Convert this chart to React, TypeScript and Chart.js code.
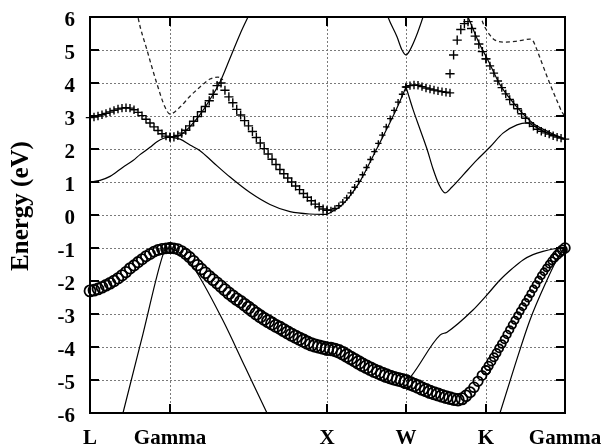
import React, { useEffect, useRef } from 'react';
import { Chart, registerables } from 'chart.js';

Chart.register(...registerables);

// ---- axes ----
const kPathTicks = [0, 80, 237, 316, 396, 475];
const kPathLabels = ['L', 'Gamma', 'X', 'W', 'K', 'Gamma'];
const energyMin = -6;
const energyMax = 6;
const yTitle = 'Energy (eV)';

// ---- circle markers (valence band), values per k-path segment ----
const circleLG = [-2.30, -2.28, -2.24, -2.19, -2.13, -2.07, -2.00, -1.92, -1.83, -1.73, -1.62, -1.53, -1.43, -1.34, -1.25, -1.18, -1.11, -1.06, -1.03, -1.01, -1.00];
const circleGX = [-1.00, -1.01, -1.04, -1.10, -1.18, -1.28, -1.40, -1.52, -1.64, -1.75, -1.86, -1.96, -2.06, -2.16, -2.27, -2.37, -2.46, -2.55, -2.63, -2.72, -2.81, -2.90, -2.99, -3.07, -3.15, -3.22, -3.29, -3.36, -3.42, -3.49, -3.56, -3.63, -3.69, -3.75, -3.81, -3.87, -3.92, -3.96, -3.99, -4.02, -4.05];
const circleXW = [-4.05, -4.06, -4.09, -4.13, -4.19, -4.26, -4.33, -4.40, -4.47, -4.54, -4.60, -4.66, -4.72, -4.77, -4.82, -4.87, -4.91, -4.95, -4.98, -5.01, -5.05];
const circleWK = [-5.05, -5.10, -5.15, -5.20, -5.26, -5.31, -5.36, -5.40, -5.44, -5.48, -5.52, -5.55, -5.58, -5.60, -5.57, -5.48, -5.37, -5.22, -5.04, -4.86, -4.70];
const circleKG = [-4.70, -4.57, -4.44, -4.31, -4.18, -4.04, -3.91, -3.77, -3.62, -3.48, -3.33, -3.19, -3.05, -2.91, -2.78, -2.65, -2.52, -2.38, -2.24, -2.11, -1.97, -1.84, -1.72, -1.60, -1.49, -1.39, -1.30, -1.21, -1.13, -1.06, -1.00];

// ---- plus markers (conduction band), values per segment ----
const plusLG = [2.95, 2.97, 3.00, 3.04, 3.08, 3.12, 3.17, 3.21, 3.24, 3.25, 3.24, 3.19, 3.11, 3.01, 2.90, 2.79, 2.67, 2.56, 2.46, 2.39, 2.36];
const plusGX = [2.36, 2.37, 2.41, 2.48, 2.57, 2.70, 2.84, 2.98, 3.13, 3.29, 3.46, 3.66, 3.92, 4.00, 3.78, 3.58, 3.40, 3.20, 3.03, 2.86, 2.70, 2.53, 2.35, 2.18, 2.01, 1.85, 1.69, 1.53, 1.38, 1.25, 1.12, 1.00, 0.88, 0.77, 0.65, 0.54, 0.43, 0.33, 0.25, 0.18, 0.14];
const plusXW = [0.14, 0.15, 0.20, 0.28, 0.39, 0.52, 0.67, 0.84, 1.02, 1.22, 1.44, 1.68, 1.92, 2.17, 2.42, 2.67, 2.92, 3.17, 3.42, 3.66, 3.88];
const plusWBranch = [3.88, 3.92, 3.94, 3.93, 3.89, 3.85, 3.82, 3.79, 3.76, 3.74, 3.72, 3.70];
const plusUpper = [4.28, 4.85, 5.30, 5.62, 5.80, 5.86, 5.65, 5.42, 5.18, 4.95, 4.73];
const plusKG = [4.73, 4.52, 4.30, 4.06, 3.86, 3.67, 3.50, 3.35, 3.22, 3.07, 2.93, 2.79, 2.69, 2.60, 2.54, 2.49, 2.45, 2.40, 2.36, 2.33, 2.30];
const plusSegmentRange: [number, number][] = [[0, 80], [80, 237], [237, 316], [316, 360], [360, 396], [396, 475]];

// ---- solid bands: [k, energy] ----
const bandLGLower: [number, number][] = [[0, 1.0], [10, 1.05], [20, 1.17], [33, 1.45], [43, 1.65], [50, 1.83], [60, 2.05], [67, 2.22], [73, 2.32], [80, 2.36]];
const bandGXLower: [number, number][] = [[80, 2.36], [90, 2.3], [100, 2.12], [110, 1.95], [123, 1.6], [140, 1.15], [160, 0.68], [180, 0.32], [200, 0.1], [220, 0.03], [237, 0.02]];
const bandXWRise: [number, number][] = [[237, 0.02], [245, 0.15], [250, 0.25], [255, 0.4], [260, 0.58], [270, 1.02], [280, 1.6], [290, 2.2], [300, 2.8], [310, 3.45], [316, 3.88]];
const bandGammaUp: [number, number][] = [[80, 2.36], [90, 2.42], [100, 2.68], [110, 3.04], [120, 3.5], [130, 4.03], [140, 4.75], [150, 5.48], [158, 6.0], [165, 6.45]];
const bandWTop: [number, number][] = [[293, 6.5], [298, 6.0], [307, 5.4], [312, 5.0], [316, 4.85], [320, 5.0], [326, 5.4], [333, 6.0], [337, 6.4]];
const bandWDown: [number, number][] = [[316, 3.88], [323, 3.2], [330, 2.6], [337, 2.0], [343, 1.4], [349, 0.92], [355, 0.67], [362, 0.85], [373, 1.21], [387, 1.67], [400, 2.06], [413, 2.48], [427, 2.73], [437, 2.79], [447, 2.64], [460, 2.45], [475, 2.3]];
const bandKUpper: [number, number][] = [[375, 6.2], [378, 6.0], [390, 5.15], [397, 4.75], [410, 3.95], [427, 3.27], [443, 2.78], [460, 2.5], [475, 2.3]];
const bandLowLeft: [number, number][] = [[30, -6.37], [33, -6.0], [53, -3.6], [73, -1.2], [76, -1.02], [80, -1.0]];
const bandLowMid: [number, number][] = [[80, -1.0], [90, -1.15], [100, -1.45], [107, -1.75], [133, -3.2], [155, -4.6], [177, -6.0], [181, -6.25]];
const bandLowW: [number, number][] = [[316, -5.05], [322, -4.85], [350, -3.64], [357, -3.55], [383, -2.88], [397, -2.42], [410, -1.97], [422, -1.63], [433, -1.36], [443, -1.2], [453, -1.1], [463, -1.03], [475, -1.0]];
const bandLowRight: [number, number][] = [[406, -6.4], [410, -6.0], [425, -4.55], [440, -3.18], [457, -1.97], [466, -1.4], [473, -1.06], [475, -1.0]];

// ---- dashed bands ----
const dashLeft: [number, number][] = [[45, 6.6], [48, 6.0], [57, 5.0], [67, 3.97], [75, 3.27], [80, 3.06], [90, 3.27], [100, 3.6], [110, 3.88], [120, 4.12], [128, 4.18], [133, 4.1]];
const dashRight: [number, number][] = [[388, 6.3], [393, 5.82], [400, 5.45], [405, 5.3], [415, 5.24], [425, 5.26], [433, 5.3], [440, 5.33], [443, 5.28], [447, 5.0], [452, 4.6], [457, 4.2], [462, 3.82], [467, 3.46], [472, 3.12], [475, 3.0]];

// ---- styles ----
const circleSizeAnchors: [number, number][] = [[0, 5.5], [80, 5], [160, 6], [237, 6.3], [316, 6.5], [368, 5.8], [396, 4.3], [430, 3.5], [460, 3.5], [475, 4.8]];
const plusSizes = [4.2, 4.6, 3.2, 4.2, 4.6, 4.2];
const FONT = "'Liberation Serif', 'Times New Roman', serif";

const seg = (x0: number, x1: number, ys: number[]) =>
  ys.map((y, i) => ({ x: x0 + ((x1 - x0) * i) / (ys.length - 1), y }));
const pts = (pairs: [number, number][]) => pairs.map(([x, y]) => ({ x, y }));

function circleSize(x: number) {
  const a = circleSizeAnchors;
  for (let i = 1; i < a.length; i++) {
    if (x <= a[i][0]) {
      const t = (x - a[i - 1][0]) / (a[i][0] - a[i - 1][0]);
      return a[i - 1][1] + t * (a[i][1] - a[i - 1][1]);
    }
  }
  return a[a.length - 1][1];
}

const framePlugin = {
  id: 'bandFrame',
  beforeDatasetsDraw(chart: any) {
    const { ctx, chartArea: a, scales } = chart;
    const x = scales.x, y = scales.y;
    ctx.save();
    ctx.strokeStyle = '#7a7a7a';
    ctx.lineWidth = 1;
    ctx.setLineDash([2, 2]);
    ctx.beginPath();
    for (let v = energyMin + 1; v < energyMax; v++) {
      const py = Math.round(y.getPixelForValue(v)) + 0.5;
      ctx.moveTo(a.left, py);
      ctx.lineTo(a.right, py);
    }
    for (const t of kPathTicks.slice(1, -1)) {
      const px = Math.round(x.getPixelForValue(t)) + 0.5;
      ctx.moveTo(px, a.top);
      ctx.lineTo(px, a.bottom);
    }
    ctx.stroke();
    ctx.restore();
  },
  afterDatasetsDraw(chart: any) {
    const { ctx, chartArea: a, scales } = chart;
    const x = scales.x, y = scales.y;
    ctx.save();
    ctx.setLineDash([]);
    ctx.strokeStyle = '#000';
    ctx.lineWidth = 2;
    ctx.strokeRect(a.left, a.top, a.right - a.left, a.bottom - a.top);
    const tl = 9;
    ctx.beginPath();
    for (let v = energyMin + 1; v < energyMax; v++) {
      const py = y.getPixelForValue(v);
      ctx.moveTo(a.left, py);
      ctx.lineTo(a.left + tl, py);
      ctx.moveTo(a.right, py);
      ctx.lineTo(a.right - tl, py);
    }
    for (const t of kPathTicks.slice(1, -1)) {
      const px = x.getPixelForValue(t);
      ctx.moveTo(px, a.bottom);
      ctx.lineTo(px, a.bottom - tl);
      ctx.moveTo(px, a.top);
      ctx.lineTo(px, a.top + tl);
    }
    ctx.stroke();
    ctx.restore();
  },
  afterDraw(chart: any) {
    const { ctx, chartArea: a } = chart;
    ctx.save();
    ctx.translate(28, (a.top + a.bottom) / 2 - 9);
    ctx.rotate(-Math.PI / 2);
    ctx.font = `bold 25px ${FONT}`;
    ctx.fillStyle = '#000';
    ctx.textAlign = 'center';
    ctx.textBaseline = 'alphabetic';
    ctx.fillText(yTitle, 0, 0);
    ctx.restore();
  },
};

function lineDs(pairs: [number, number][], dashed = false) {
  return {
    data: pts(pairs),
    showLine: true,
    borderColor: dashed ? '#222' : '#000',
    borderWidth: dashed ? 1.3 : 1.2,
    borderDash: dashed ? [4, 3] : [],
    pointRadius: 0,
    pointHoverRadius: 0,
    cubicInterpolationMode: 'monotone',
    fill: false,
    clip: 0,
  };
}

export default function App() {
  const ref = useRef<HTMLCanvasElement>(null);
  useEffect(() => {
    const circleData = [
      ...seg(kPathTicks[0], kPathTicks[1], circleLG),
      ...seg(kPathTicks[1], kPathTicks[2], circleGX),
      ...seg(kPathTicks[2], kPathTicks[3], circleXW),
      ...seg(kPathTicks[3], kPathTicks[4], circleWK),
      ...seg(kPathTicks[4], kPathTicks[5], circleKG),
    ];
    const plusSegs = [plusLG, plusGX, plusXW, plusWBranch, plusUpper, plusKG];
    const plusDatasets = plusSegs.map((vals, i) => ({
      data: seg(plusSegmentRange[i][0], plusSegmentRange[i][1], vals),
      showLine: false,
      pointStyle: 'cross',
      pointRadius: plusSizes[i],
      pointHoverRadius: plusSizes[i],
      pointBorderColor: '#000',
      pointBorderWidth: 1.4,
      clip: false,
    }));
    const lines = [
      lineDs(bandLGLower), lineDs(bandGXLower), lineDs(bandXWRise), lineDs(bandGammaUp),
      lineDs(bandWTop), lineDs(bandWDown), lineDs(bandKUpper),
      lineDs(bandLowLeft), lineDs(bandLowMid), lineDs(bandLowW), lineDs(bandLowRight),
      lineDs(dashLeft, true), lineDs(dashRight, true),
    ];
    const tickFont = { family: FONT, size: 21, weight: 'bold' as const };
    const chart = new Chart(ref.current as HTMLCanvasElement, {
      type: 'scatter',
      data: {
        datasets: [
          {
            data: circleData,
            showLine: false,
            pointStyle: 'circle',
            pointRadius: (c: any) => circleSize(c.raw ? c.raw.x : 0),
            pointHoverRadius: 0,
            pointBorderColor: '#000',
            pointBackgroundColor: 'rgba(0,0,0,0)',
            pointBorderWidth: 1.8,
            clip: false,
          } as any,
          ...(plusDatasets as any[]),
          ...(lines as any[]),
        ],
      },
      options: {
        responsive: false,
        animation: false,
        devicePixelRatio: 1,
        events: [],
        layout: { padding: { top: 17, right: 39, left: 0, bottom: 0 } },
        plugins: { legend: { display: false }, tooltip: { enabled: false } },
        scales: {
          x: {
            type: 'linear',
            min: kPathTicks[0],
            max: kPathTicks[kPathTicks.length - 1],
            grid: { display: false, drawTicks: false },
            border: { display: false },
            afterBuildTicks: (axis: any) => {
              axis.ticks = kPathTicks.map((v) => ({ value: v }));
            },
            afterFit: (s: any) => {
              s.height = 35;
              s.paddingLeft = 0;
              s.paddingRight = 0;
            },
            ticks: {
              autoSkip: false,
              maxRotation: 0,
              padding: 13,
              color: '#000',
              font: tickFont,
              callback: (v: any) => {
                const i = kPathTicks.indexOf(Number(v));
                return i >= 0 ? kPathLabels[i] : '';
              },
            },
          },
          y: {
            type: 'linear',
            min: energyMin,
            max: energyMax,
            grid: { display: false, drawTicks: false },
            border: { display: false },
            afterFit: (s: any) => {
              s.width = 90;
              s.paddingTop = 0;
              s.paddingBottom = 0;
            },
            ticks: {
              stepSize: 1,
              padding: 15,
              labelOffset: 4,
              color: '#000',
              font: tickFont,
              callback: (v: any) => String(v),
            },
          },
        } as any,
      },
      plugins: [framePlugin as any],
    });
    return () => chart.destroy();
  }, []);
  return (
    <div style={{ position: 'absolute', left: 0, top: 0, width: 604, height: 448, background: '#fff' }}>
      <canvas ref={ref} width={604} height={448} style={{ display: 'block', width: 604, height: 448 }} />
    </div>
  );
}
